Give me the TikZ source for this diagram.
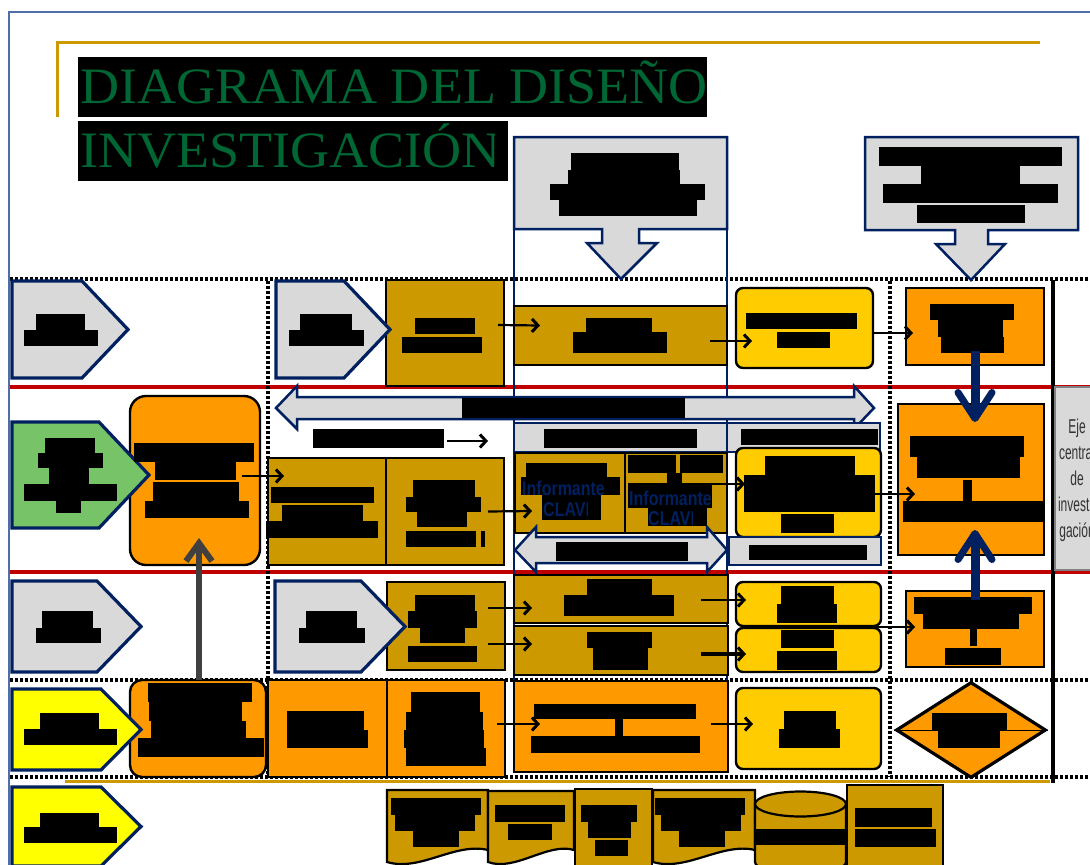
\documentclass[tikz,border=0pt]{standalone}
\usepackage{fontspec}
\usepackage{graphicx}
\setmainfont{Liberation Serif}
\newfontfamily\arialf{Liberation Sans}
\usetikzlibrary{shapes.geometric,arrows.meta}
\definecolor{navy}{RGB}{0,32,96}
\definecolor{lgray}{RGB}{217,217,217}
\definecolor{goldf}{RGB}{204,153,0}
\definecolor{yellowf}{RGB}{255,204,0}
\definecolor{orangef}{RGB}{255,153,0}
\definecolor{greenf}{RGB}{119,196,104}
\definecolor{pyellow}{RGB}{255,255,0}
\definecolor{redl}{RGB}{192,0,0}
\definecolor{frameblue}{RGB}{79,110,168}
\definecolor{ttlgreen}{RGB}{0,102,51}
\definecolor{darkg}{RGB}{64,64,64}
\definecolor{ejetext}{RGB}{51,51,51}
\tikzset{
  bx/.style={draw=black, line width=1.8pt, inner sep=0pt, outer sep=0pt, anchor=north west},
  goldbx/.style={bx, fill=goldf},
  orgbx/.style={bx, fill=orangef},
  yelbx/.style={bx, fill=yellowf, line width=2.4pt, rounded corners=7pt},
  tagbx/.style={draw=navy, line width=2.2pt, fill=lgray, inner sep=0pt, outer sep=0pt, anchor=north west},
  pent/.style={draw=navy, line width=3.2pt},
  dotline/.style={line width=3.5pt, dash pattern=on 2.5pt off 2.5pt},
  redline/.style={draw=redl, line width=4pt},
  conn/.style={line width=2.2pt, -{Straight Barb[length=6pt,width=13pt,line width=3pt]}},
  navyarr/.style={draw=navy, line width=9pt, -{Straight Barb[length=26pt,width=34pt,line width=7pt,round]}},
  grayarr/.style={draw=darkg, line width=6pt, -{Straight Barb[length=18pt,width=26pt,line width=6pt]}},
  ttl/.style={inner sep=0pt, text=ttlgreen, font=\fontsize{51}{51}\selectfont},
  inf/.style={inner sep=0pt, text=navy, font=\arialf\bfseries\fontsize{20}{20}\selectfont}
}
\begin{document}
\begin{tikzpicture}[x=1pt,y=-1pt]
  \useasboundingbox (0,0) rectangle (1090,865);
  \clip (0,0) rectangle (1090,865);
  \draw[frameblue, line width=2.5pt] (9,870) -- (9,12) -- (1095,12);
  \draw[goldf, line width=3pt] (57,117) -- (57,42) -- (1040,42);
  \fill (78,57) rectangle (707,117);
  \fill (78,121) rectangle (508,181);
  \node[ttl, anchor=base west] (ttl1) at (80,103) {\scalebox{1.06}[1]{DIAGRAMA DEL DISEÑO}};
  \begin{scope}
    \clip (78,121) rectangle (494,181);
    \node[ttl, anchor=base west] (ttl2) at (80,167) {\scalebox{1.06}[1]{INVESTIGACIÓN}};
  \end{scope}

  \draw[redline] (10,387) -- (1095,387);
  \draw[redline] (10,572) -- (1095,572);
  \draw[dotline] (10,279) -- (1095,279);
  \draw[dotline] (10,680) -- (1095,680);
  \draw[dotline] (10,777) -- (1095,777);
  \draw[dotline] (268,281) -- (268,777);
  \draw[dotline] (890,281) -- (890,777);
  \draw[line width=3.5pt] (1053,280) -- (1053,783);
  \draw[goldf, line width=3pt] (65,781) -- (1050,781);
  \draw[navy, line width=2.5pt] (514,137) -- (514,772);
  \draw[navy, line width=2.5pt] (727,137) -- (727,681);

  \filldraw[fill=lgray, draw=navy, line width=2.5pt] (514,137) -- (727,137) -- (727,229) -- (639,229) -- (639,243) -- (657,243) -- (621,279) -- (587,243) -- (602,243) -- (602,229) -- (514,229) -- cycle;
  \filldraw[fill=lgray, draw=navy, line width=2.5pt] (865,137) -- (1078,137) -- (1078,230) -- (988,230) -- (988,244) -- (1005,244) -- (971,280) -- (936,244) -- (955,244) -- (955,230) -- (865,230) -- cycle;

  \node[goldbx, minimum width=118pt, minimum height=106pt] (g1) at (386,280) {};
  \node[goldbx, minimum width=213pt, minimum height=59pt] (c1) at (514,306) {};
  \node[yelbx, minimum width=137pt, minimum height=80pt] (y1) at (736,288) {};
  \node[orgbx, minimum width=138pt, minimum height=77pt] (r1) at (906,288) {};

  \filldraw[fill=lgray, draw=navy, line width=2.5pt] (276,408) -- (297,386) -- (297,397) -- (854,397) -- (854,386) -- (874,408) -- (854,429) -- (854,419) -- (297,419) -- (297,429) -- cycle;
  \node[tagbx, minimum width=213pt, minimum height=29pt] (tag1) at (514,423) {};
  \node[tagbx, minimum width=153pt, minimum height=29pt] (tag2) at (727,423) {};
  \node[orgbx, line width=2.4pt, rounded corners=16pt, minimum width=130pt, minimum height=169pt] (o2) at (130,396) {};
  \node[goldbx, minimum width=118pt, minimum height=107pt] (ga) at (268,458) {};
  \node[goldbx, minimum width=118pt, minimum height=107pt] (gb) at (386,458) {};
  \node[goldbx, minimum width=110pt, minimum height=80pt] (gc) at (515,453) {};
  \node[goldbx, minimum width=102pt, minimum height=80pt] (gd) at (625,453) {};
  \node[yelbx, minimum width=145pt, minimum height=89pt] (y2) at (736,448) {};
  \node[tagbx, minimum width=152pt, minimum height=28pt] (tag3) at (729,537) {};
  \filldraw[fill=lgray, draw=navy, line width=2.5pt] (515,550) -- (536,527) -- (536,537) -- (707,537) -- (707,527) -- (727,550) -- (707,572) -- (707,563) -- (536,563) -- (536,572) -- cycle;
  \node[orgbx, minimum width=146pt, minimum height=151pt] (q) at (898,404) {};
  \filldraw[fill=lgray, draw=gray, line width=1.5pt] (1055,387) rectangle (1110,570);

  \node[goldbx, minimum width=118pt, minimum height=88pt] (ge) at (387,582) {};
  \node[goldbx, minimum width=214pt, minimum height=48pt] (gf) at (514,575) {};
  \node[goldbx, minimum width=214pt, minimum height=49pt] (gg) at (514,626) {};
  \node[yelbx, minimum width=145pt, minimum height=44pt] (yh) at (736,582) {};
  \node[yelbx, minimum width=145pt, minimum height=44pt] (yi) at (736,628) {};
  \node[orgbx, minimum width=138pt, minimum height=76pt] (oj) at (906,591) {};

  \node[orgbx, line width=2.4pt, rounded corners=12pt, minimum width=136pt, minimum height=97pt] (ok) at (130,680) {};
  \node[orgbx, minimum width=119pt, minimum height=97pt] (ol) at (268,680) {};
  \node[orgbx, minimum width=118pt, minimum height=97pt] (om) at (387,680) {};
  \node[orgbx, line width=2.4pt, minimum width=214pt, minimum height=91pt] (on) at (514,681) {};
  \node[yelbx, minimum width=145pt, minimum height=81pt] (yo) at (736,688) {};
  \node[diamond, draw, line width=3.2pt, fill=orangef, inner sep=0pt, minimum width=150pt, minimum height=96pt] (pd) at (971,730) {};
  \draw[line width=1pt] (pd.west) -- (pd.east);

  \filldraw[pent, fill=lgray] (12,281) -- (82,281) -- (128,329.5) -- (82,378) -- (12,378) -- cycle;
  \filldraw[pent, fill=lgray] (276,281) -- (344,281) -- (390,329.5) -- (344,378) -- (276,378) -- cycle;
  \filldraw[pent, fill=greenf] (12,422) -- (99,422) -- (149,475) -- (99,528) -- (12,528) -- cycle;
  \filldraw[pent, fill=lgray] (12,581) -- (97,581) -- (141,626.5) -- (97,672) -- (12,672) -- cycle;
  \filldraw[pent, fill=lgray] (275,581) -- (361,581) -- (405,626.5) -- (361,672) -- (275,672) -- cycle;
  \filldraw[pent, fill=pyellow] (12,689) -- (101,689) -- (141,729.5) -- (101,770) -- (12,770) -- cycle;
  \filldraw[pent, fill=pyellow] (12,787) -- (101,787) -- (141,826.5) -- (101,866) -- (12,866) -- cycle;

  \filldraw[fill=goldf, line width=2.2pt] (387,790) -- (488,790) -- (488,850) .. controls (455,842) and (420,872) .. (387,862) -- cycle;
  \filldraw[fill=goldf, line width=2.2pt] (488,791) -- (574,791) -- (574,850) .. controls (548,842) and (515,872) .. (488,862) -- cycle;
  \filldraw[fill=goldf, line width=2.2pt] (575,789) rectangle (652,870);
  \filldraw[fill=goldf, line width=2.2pt] (653,790) -- (755,790) -- (755,850) .. controls (722,842) and (686,872) .. (653,862) -- cycle;
  \filldraw[fill=goldf, line width=2.2pt] (755,804) -- (755,862) arc[start angle=180, end angle=0, x radius=45.5, y radius=12.5] -- (846,804) -- cycle;
  \filldraw[fill=goldf, line width=2.2pt] (800.5,804) ellipse [x radius=45.5, y radius=12.5];
  \filldraw[fill=goldf, line width=2.8pt] (847,785) rectangle (943,870);

  \foreach \a/\b/\c/\d in {571/153/679/170, 568/170/680/184, 550/184/705/200, 559/200/697/216,
      879/147/1062/166, 921/166/1020/184, 883/184/1058/203, 917/205/1025/223,
      36/314/85/330, 24/330/98/346, 300/314/352/330, 289/330/364/346,
      415/318/475/334, 402/337/482/353, 586/318/652/333, 573/332/667/353,
      746/313/857/329, 777/332/830/348, 930/304/1014/320, 938/320/1003/337, 941/337/1004/353}
    \fill (\a,\b) rectangle (\c,\d);
  \foreach \a/\b/\c/\d in {462/398/685/418, 544/429/697/448, 741/429/878/445,
      45/438/95/453, 38/453/103/468, 49/468/89/484, 24/484/117/501, 56/501/81/513,
      134/443/254/462, 155/462/236/480, 153/482/239/501, 145/501/249/518,
      271/487/374/503, 282/505/363/521, 266/521/378/538,
      413/480/475/497, 406/497/481/512, 417/512/467/527, 406/531/476/547, 481/531/485/547,
      526/463/607/477, 521/477/620/495, 542/495/601/520,
      628/455/676/473, 680/455/723/473, 667/473/682/483, 628/483/712/508, 648/508/707/526,
      765/456/855/475, 744/475/875/512, 781/514/834/533, 749/545/867/560, 556/542/688/561,
      910/436/1024/457, 917/457/1020/478, 963/480/972/502, 903/501/1044/522}
    \fill (\a,\b) rectangle (\c,\d);
  \foreach \a/\b/\c/\d in {42/611/93/628, 36/628/101/643, 306/611/357/628, 299/628/365/643,
      415/595/475/611, 408/611/477/628, 420/628/465/643, 408/646/477/662,
      587/579/652/595, 564/595/674/616, 587/632/652/648, 593/648/648/670,
      781/586/834/604, 777/604/837/623, 781/630/834/648, 777/651/837/670,
      914/597/1032/614, 923/614/1019/629, 970/629/977/646, 945/648/1001/665}
    \fill (\a,\b) rectangle (\c,\d);
  \foreach \a/\b/\c/\d in {40/713/99/729, 24/729/117/745,
      148/683/252/702, 149/702/242/721, 151/721/246/738, 138/738/264/757,
      287/711/364/730, 287/730/368/748,
      411/692/480/712, 406/712/483/730, 404/730/484/748, 406/748/486/766,
      534/704/696/719, 615/719/623/736, 531/736/700/753,
      784/711/836/729, 779/729/840/748, 932/713/1007/730, 938/730/1000/748,
      40/813/99/827, 24/827/117/843,
      391/798/481/815, 395/815/475/831, 413/831/459/847,
      495/805/565/822, 508/824/552/840,
      581/805/637/822, 588/822/631/838, 595/840/628/856,
      655/798/745/815, 661/815/741/831, 679/831/725/847,
      755/829/846/845, 855/808/932/827, 855/829/936/847}
    \fill (\a,\b) rectangle (\c,\d);
  \node[fill=black, inner sep=0pt, outer sep=0pt, anchor=north west, minimum width=131pt, minimum height=19pt] (lbl1) at (313,429) {};
  \coordinate (lbl1e) at (488,441);

  \begin{scope}
    \clip (515,453) rectangle (605,500);
    \node[inf, anchor=base west] (inf1) at (522,495) {\scalebox{0.8}[1]{Informante}};
  \end{scope}
  \begin{scope}
    \clip (515,498) rectangle (587,533);
    \node[inf, anchor=base west] (clave1) at (543,516) {\scalebox{0.8}[1]{CLAVE}};
  \end{scope}
  \begin{scope}
    \clip (625,480) rectangle (711,508);
    \node[inf, anchor=base west] (inf2) at (629,505) {\scalebox{0.8}[1]{Informante}};
  \end{scope}
  \begin{scope}
    \clip (625,508) rectangle (692,533);
    \node[inf, anchor=base west] (clave2) at (648,525) {\scalebox{0.8}[1]{CLAVE}};
  \end{scope}
  \node[inner sep=0pt, text=ejetext, font=\arialf\fontsize{20}{26}\selectfont] (eje) at (1077,480)
    {\scalebox{0.6}[1]{\begin{tabular}{@{}c@{}}Eje\\central\\de\\investi-\\gación\end{tabular}}};

  \draw[conn] ([shift={(-6,-8)}]g1.east) -- ([shift={(26,-10)}]c1.west);
  \draw[conn] ([shift={(-17,5.5)}]c1.east) -- ([shift={(16,13)}]y1.west);
  \draw[conn] ([shift={(-1,5)}]y1.east) -- ([shift={(7,6.5)}]r1.west);
  \draw[conn] ([shift={(3,2.5)}]lbl1.east) -- (lbl1e);
  \draw[conn] ([shift={(-18,-4.5)}]o2.east) -- ([shift={(16,-35.5)}]ga.west);
  \draw[conn] ([shift={(-16,0)}]gb.east) -- ([shift={(17,18)}]gc.west);
  \draw[conn] ([shift={(-26,-9)}]gd.east) -- ([shift={(9,-8.5)}]y2.west);
  \draw[conn] ([shift={(-9,1.5)}]y2.east) -- ([shift={(17,14.5)}]q.west);
  \draw[conn] ([shift={(-17,-18)}]ge.east) -- ([shift={(18,9)}]gf.west);
  \draw[conn] ([shift={(-17,18)}]ge.east) -- ([shift={(18,-6.5)}]gg.west);
  \draw[conn] ([shift={(-27,1)}]gf.east) -- ([shift={(10,-4)}]yh.west);
  \draw[conn, line width=3.5pt] ([shift={(-27,3.5)}]gg.east) -- ([shift={(10,4)}]yi.west);
  \draw[conn] ([shift={(-5,1)}]yh.south east) -- ([shift={(9,-2)}]oj.west);
  \draw[conn] ([shift={(-8,-4.5)}]om.east) -- ([shift={(26,-2.5)}]on.west);
  \draw[conn] ([shift={(-17,-2.5)}]on.east) -- ([shift={(17,-4.5)}]yo.west);
  \draw[grayarr] ([shift={(1,0)}]ok.north) -- ([shift={(4,-27)}]o2.south);
  \draw[navyarr] ([shift={(0,-14)}]r1.south) -- ([shift={(4,18)}]q.north);
  \draw[navyarr] ([shift={(0,9)}]oj.north) -- ([shift={(4,-25)}]q.south);
\end{tikzpicture}
\end{document}
